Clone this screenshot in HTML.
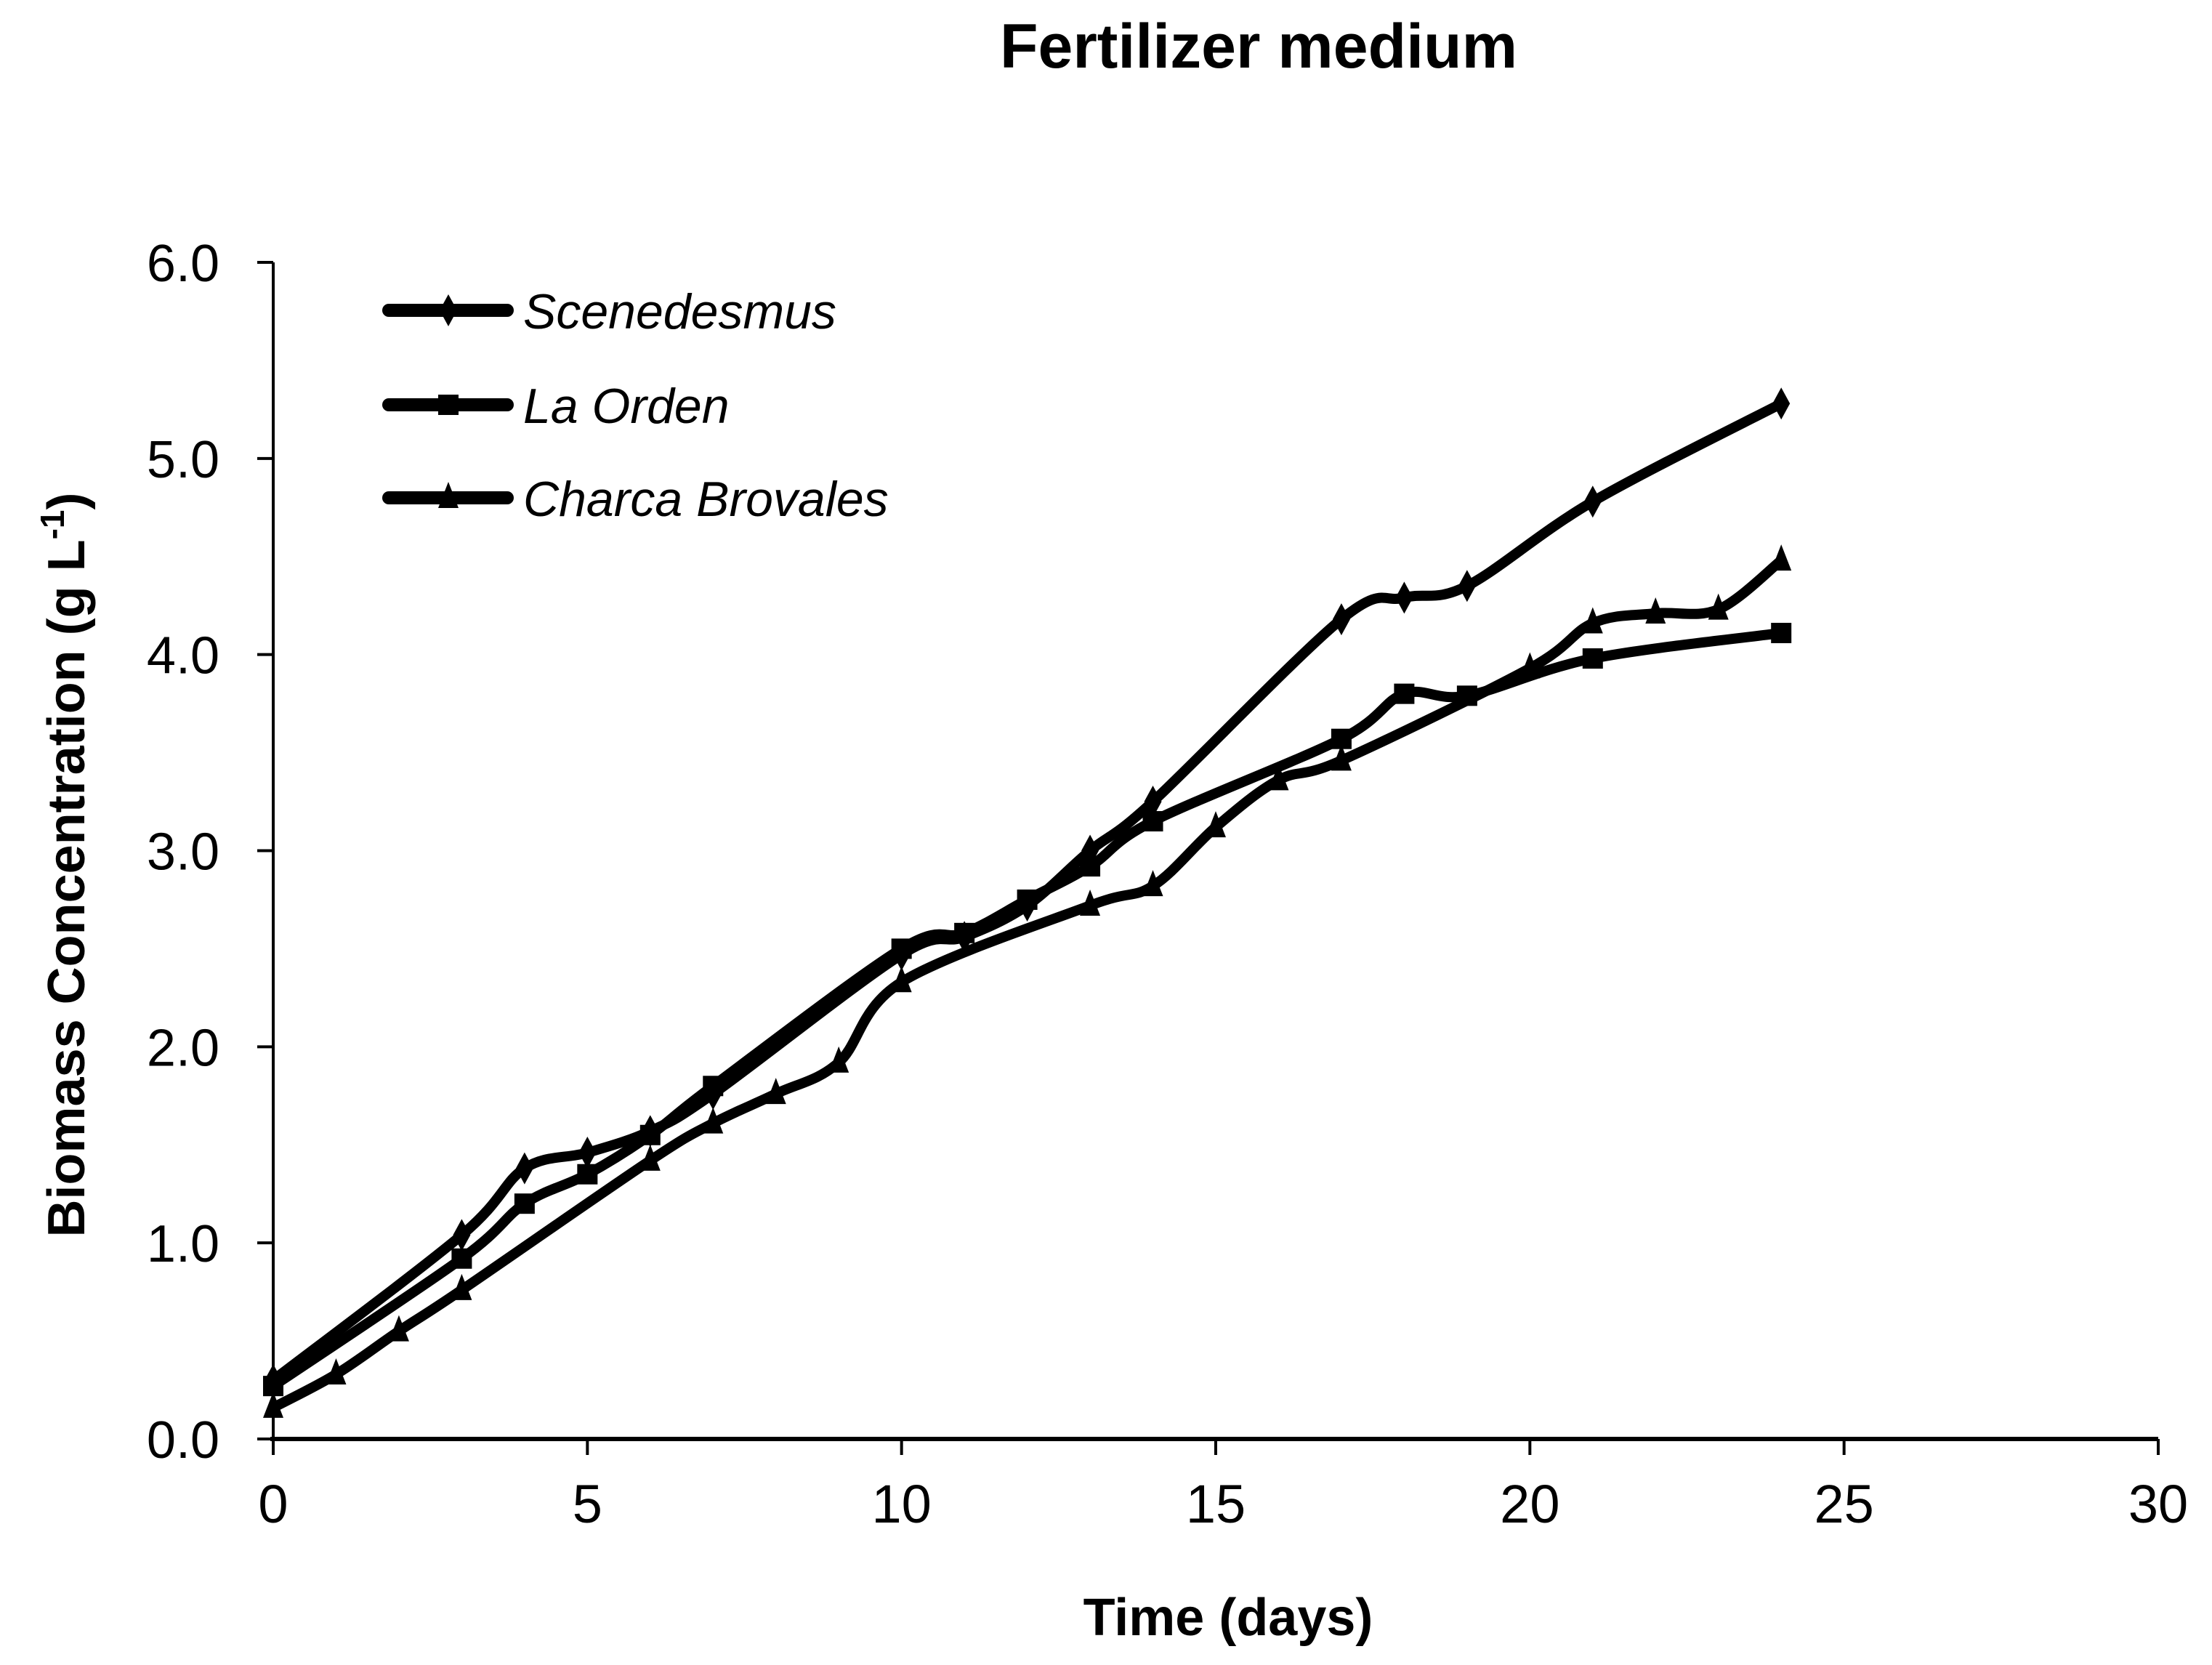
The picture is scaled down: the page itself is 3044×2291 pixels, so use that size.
<!DOCTYPE html>
<html><head><meta charset="utf-8"><style>
html,body{margin:0;padding:0;background:#fff}
svg{display:block}
text{font-family:"Liberation Sans",Arial,sans-serif;fill:#000}
</style></head><body>
<svg id="chart" width="3044" height="2291" viewBox="0 0 3044 2291" xmlns="http://www.w3.org/2000/svg">
<text x="1732" y="93" font-size="86" font-weight="bold" text-anchor="middle">Fertilizer medium</text>
<text x="1690" y="2250" font-size="72" font-weight="bold" text-anchor="middle">Time (days)</text>
<text transform="translate(116,1190) rotate(-90)" font-size="72" font-weight="bold" text-anchor="middle">Biomass Concentration (g L<tspan font-size="46" dy="-28">-1</tspan><tspan dy="28">)</tspan></text>
<g id="axes"></g>
<g id="series"></g>
<g id="legend"></g>
</svg>
<script>
const xTicks = [0,5,10,15,20,25,30];
const yTicks = [0,1,2,3,4,5,6];
const yTickLabels = ["0.0","1.0","2.0","3.0","4.0","5.0","6.0"];
const seriesNames = ["Scenedesmus","La Orden","Charca Brovales"];
const scenX = [0,3,4,5,6,7,10,11,12,13,14,17,18,19,21,24];
const scenY = [0.30,1.04,1.38,1.46,1.57,1.76,2.47,2.56,2.72,3.00,3.25,4.18,4.29,4.35,4.78,5.28];
const ordenX = [0,3,4,5,6,7,10,11,12,13,14,17,18,19,21,24];
const ordenY = [0.27,0.92,1.20,1.35,1.55,1.80,2.50,2.58,2.75,2.92,3.15,3.57,3.80,3.79,3.98,4.11];
const charcaX = [0,1,2,3,6,7,8,9,10,13,14,15,16,17,20,21,22,23,24];
const charcaY = [0.16,0.33,0.55,0.76,1.42,1.61,1.76,1.92,2.33,2.72,2.82,3.12,3.36,3.46,3.93,4.16,4.21,4.23,4.48];

const NS="http://www.w3.org/2000/svg";
const X0=376,X1=2970,Y0=1980,Y1=361;
const sx=v=>X0+(v-0)/(30-0)*(X1-X0);
const sy=v=>Y0-(v-0)/(6-0)*(Y0-Y1);
function mk(tag,attrs,parent){const e=document.createElementNS(NS,tag);for(const k in attrs)e.setAttribute(k,attrs[k]);parent.appendChild(e);return e;}
const axes=document.getElementById('axes');
let e=mk('line',{x1:X0,y1:Y1,x2:X0,y2:Y0,stroke:'#000','stroke-width':4},axes);


e=mk('line',{x1:X0-4,y1:Y0,x2:X1,y2:Y0,stroke:'#000','stroke-width':6},axes);


yTicks.forEach((v,i)=>{
  let t=mk('line',{x1:X0-22,y1:sy(v),x2:X0,y2:sy(v),stroke:'#000','stroke-width':4},axes);
  
  
  let l=mk('text',{x:302,y:sy(v)+26,'font-size':72,'text-anchor':'end'},axes);
  l.textContent=yTickLabels[i];
  
  
});
xTicks.forEach(v=>{
  let t=mk('line',{x1:sx(v),y1:Y0,x2:sx(v),y2:Y0+22,stroke:'#000','stroke-width':4},axes);
  
  
  let l=mk('text',{x:sx(v),y:2095,'font-size':74,'text-anchor':'middle'},axes);
  l.textContent=String(v);
  
  
});
function smoothPath(pts){
  let d=`M${pts[0][0]},${pts[0][1]}`;
  for(let i=0;i<pts.length-1;i++){
    const p0=pts[i-1]||pts[i],p1=pts[i],p2=pts[i+1],p3=pts[i+2]||p2;
    const t=1/6;
    const c1=[p1[0]+(p2[0]-p0[0])*t,p1[1]+(p2[1]-p0[1])*t];
    const c2=[p2[0]-(p3[0]-p1[0])*t,p2[1]-(p3[1]-p1[1])*t];
    d+=` C${c1[0]},${c1[1]} ${c2[0]},${c2[1]} ${p2[0]},${p2[1]}`;
  }
  return d;
}
function marker(type,x,y,parent){
  let m;
  if(type==='diamond') m=mk('polygon',{points:`${x},${y-22} ${x+12},${y} ${x},${y+22} ${x-12},${y}`,fill:'#000'},parent);
  else if(type==='square') m=mk('rect',{x:x-14,y:y-14,width:28,height:28,fill:'#000'},parent);
  else m=mk('polygon',{points:`${x},${y-22} ${x+14},${y+14} ${x-14},${y+14}`,fill:'#000'},parent);
  return m;
}
const sg=document.getElementById('series');
const defs=[[scenX,scenY,'diamond','scenedesmus'],[ordenX,ordenY,'square','la-orden'],[charcaX,charcaY,'triangle','charca-brovales']];
defs.forEach(([xs,ys,type,name])=>{
  const pts=xs.map((x,i)=>[sx(x),sy(ys[i])]);
  let p=mk('path',{d:smoothPath(pts),fill:'none',stroke:'#000','stroke-width':14,'stroke-linejoin':'round','stroke-linecap':'round'},sg);
  
  
  pts.forEach(q=>{
    const m=marker(type,q[0],q[1],sg);
    
    
  });
});
const lg=document.getElementById('legend');
const legY=[427,557,685];
const legTypes=['diamond','square','triangle'];
seriesNames.forEach((n,i)=>{
  let l=mk('line',{x1:535,y1:legY[i],x2:698,y2:legY[i],stroke:'#000','stroke-width':18,'stroke-linecap':'round'},lg);
  
  
  let m=marker(legTypes[i],617,legY[i],lg);
  
  
  let t=mk('text',{x:720,y:legY[i]+25,'font-size':68,'font-style':'italic'},lg);
  t.textContent=n;
  
  
});
</script>
</body></html>
